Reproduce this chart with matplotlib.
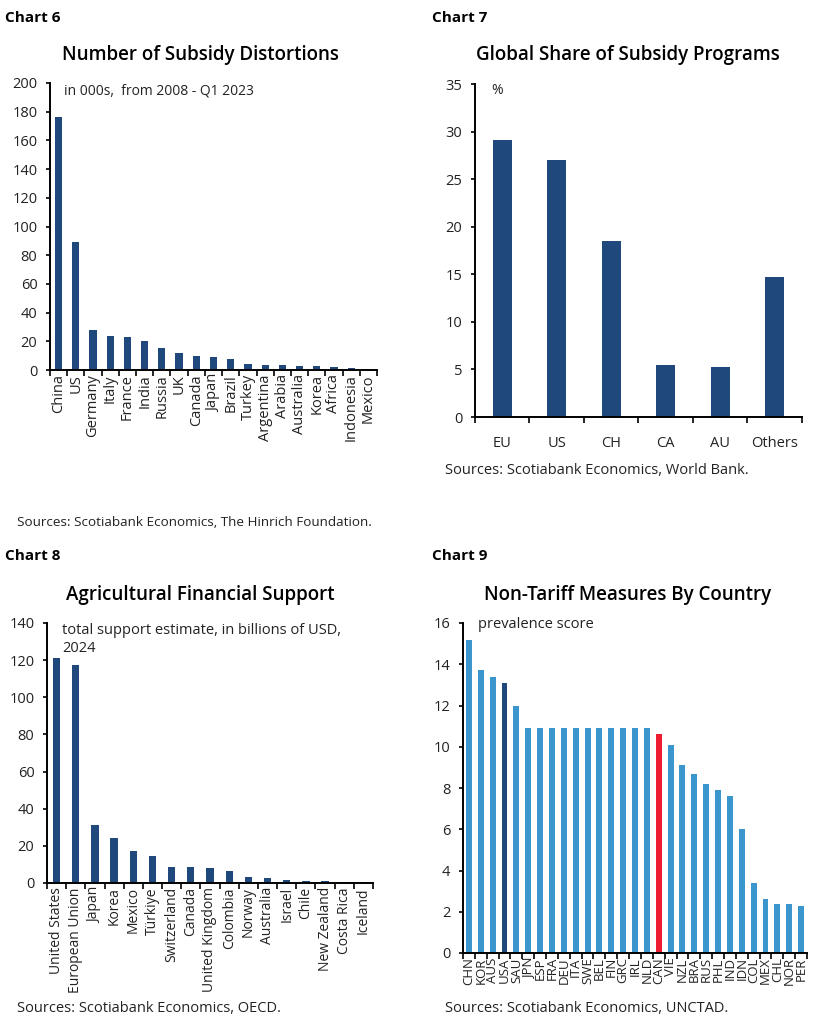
import matplotlib
matplotlib.use("Agg")
import matplotlib.pyplot as plt
import numpy as np

plt.rcParams['font.family'] = ['Open Sans', 'DejaVu Sans']

NAVY = "#1f497d"
LIGHT = "#3a96cc"
RED = "#ee1d2f"
TXT = "#222222"

# chart 6
c6_names = ["China", "US", "Germany", "Italy", "France", "India", "Russia", "UK", "Canada",
            "Japan", "Brazil", "Turkey", "Argentina", "Arabia", "Australia", "Korea",
            "Africa", "Indonesia", "Mexico"]
c6_vals = [176, 89, 28, 24, 23, 20, 15, 12, 10, 9, 8, 4.5, 3.5, 3.2, 3.0, 2.8, 1.8, 1.5, 0.8]

# chart 7
c7_names = ["EU", "US", "CH", "CA", "AU", "Others"]
c7_vals = [29.1, 27.0, 18.5, 5.5, 5.3, 14.7]

# chart 8
c8_names = ["United States", "European Union", "Japan", "Korea", "Mexico", "Türkiye",
            "Switzerland", "Canada", "United Kingdom", "Colombia", "Norway", "Australia",
            "Israel", "Chile", "New Zealand", "Costa Rica", "Iceland"]
c8_vals = [121, 117.5, 31, 24, 17, 14.3, 8.8, 8.6, 8.2, 6.3, 3.5, 2.9, 1.8, 0.9, 0.9, 0.6, 0.5]

# chart 9
c9_names = ["CHN", "KOR", "AUS", "USA", "SAU", "JPN", "ESP", "FRA", "DEU", "ITA", "SWE",
            "BEL", "FIN", "GRC", "IRL", "NLD", "CAN", "VIE", "NZL", "BRA", "RUS", "PHL",
            "IND", "IDN", "COL", "MEX", "CHL", "NOR", "PER"]
c9_vals = [15.2, 13.7, 13.4, 13.1, 12.0, 10.9, 10.9, 10.9, 10.9, 10.9, 10.9, 10.9, 10.9,
           10.9, 10.9, 10.9, 10.6, 10.1, 9.1, 8.7, 8.2, 7.9, 7.6, 6.0, 3.4, 2.6, 2.4, 2.4, 2.3]

W, H = 828, 1023
fig = plt.figure(figsize=(W / 100, H / 100), dpi=100)


def rect(l, t, r, b):
    return [l / W, 1 - b / H, (r - l) / W, (b - t) / H]


def txt(x, y, s, **kw):
    fig.text(x / W, 1 - y / H, s, **kw)


def bar_chart(box, names, vals, width, ymax, step, xsize, colors=NAVY, rot=90, xpad=3):
    ax = fig.add_axes(rect(*box))
    x = np.arange(len(names))
    ax.bar(x, vals, width=width, color=colors)
    ax.set_xlim(-0.5, len(names) - 0.5)
    ax.set_ylim(0, ymax)
    ax.set_yticks(np.arange(0, ymax + step / 2, step))
    ax.set_xticks(x)
    ax.set_xticklabels(names, rotation=rot, fontsize=xsize, color=TXT,
                       va="top", ha="center")
    ax.set_xticks(np.arange(-0.5, len(names), 1), minor=True)
    ax.tick_params(axis="x", which="major", length=0, pad=xpad)
    ax.tick_params(axis="x", which="minor", length=4, width=1.2, direction="out")
    ax.tick_params(axis="y", length=3, width=1.2, labelsize=10.5, labelcolor=TXT, pad=6)
    for s in ["top", "right"]:
        ax.spines[s].set_visible(False)
    for s in ["left", "bottom"]:
        ax.spines[s].set_linewidth(1.4)
        ax.spines[s].set_color("black")
    return ax


# chart 6
bar_chart((50, 83, 377, 370), c6_names, c6_vals, 0.42, 200, 20, 10.5)
txt(5, 18, "Chart 6", fontsize=11, fontweight="bold", va="center")
txt(200, 55, "Number of Subsidy Distortions", fontsize=13.5, fontweight="semibold",
    ha="center", va="center")
txt(64, 91, "in 000s,  from 2008 - Q1 2023", fontsize=10, color=TXT, va="center")
txt(17, 522, "Sources: Scotiabank Economics, The Hinrich Foundation.", fontsize=9.7,
    color=TXT, va="center")

# chart 7
bar_chart((475, 84, 802, 417), c7_names, c7_vals, 0.35, 35, 5, 10.5, rot=0, xpad=14)
txt(432, 18, "Chart 7", fontsize=11, fontweight="bold", va="center")
txt(628, 55, "Global Share of Subsidy Programs", fontsize=13.5, fontweight="semibold",
    ha="center", va="center")
txt(491, 91, "%", fontsize=10, color=TXT, va="center")
txt(445, 470, "Sources: Scotiabank Economics, World Bank.", fontsize=10.5,
    color=TXT, va="center")

# chart 8
bar_chart((47, 623, 373, 883), c8_names, c8_vals, 0.38, 140, 20, 10)
txt(5, 556, "Chart 8", fontsize=11, fontweight="bold", va="center")
txt(200, 595, "Agricultural Financial Support", fontsize=13.5, fontweight="semibold",
    ha="center", va="center")
txt(62, 623, "total support estimate, in billions of USD,\n2024", fontsize=10.5,
    color=TXT, va="top", linespacing=1.25)
txt(17, 1008, "Sources: Scotiabank Economics, OECD.", fontsize=10.5,
    color=TXT, va="center")

# chart 9
c9_colors = [NAVY if n == "USA" else RED if n == "CAN" else LIGHT for n in c9_names]
bar_chart((463, 623, 807, 953), c9_names, c9_vals, 0.5, 16, 2, 9.5, colors=c9_colors)
txt(432, 556, "Chart 9", fontsize=11, fontweight="bold", va="center")
txt(628, 595, "Non-Tariff Measures By Country", fontsize=13.5, fontweight="semibold",
    ha="center", va="center")
txt(478, 624, "prevalence score", fontsize=10.5, color=TXT, va="center")
txt(445, 1008, "Sources: Scotiabank Economics, UNCTAD.", fontsize=10.5,
    color=TXT, va="center")

fig.savefig("out.png", dpi=100)
